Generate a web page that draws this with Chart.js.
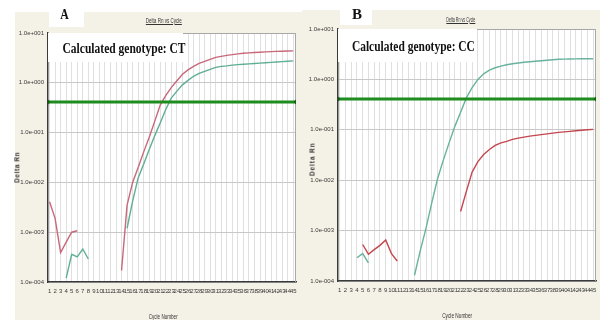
<!DOCTYPE html>
<html><head><meta charset="utf-8">
<script src="https://cdn.jsdelivr.net/npm/chart.js@4/dist/chart.umd.min.js"></script>
<style>
html,body{margin:0;padding:0;background:#fff;width:600px;height:320px;overflow:hidden;position:relative;font-family:'Liberation Sans',Arial,sans-serif;}
.panel{position:absolute;background:#f4f2e6;}
canvas{position:absolute;top:0;}
.wbox{position:absolute;background:#fff;}
</style></head>
<body>
<div class="panel" style="left:15px;top:12px;width:287px;height:308px"></div>
<div class="panel" style="left:302px;top:10px;width:298px;height:310px"></div>
<canvas id="cA" width="300" height="320" style="left:0"></canvas>
<canvas id="cB" width="300" height="320" style="left:300px"></canvas>
<script>
// ---- data ----
const cycles = [1,2,3,4,5,6,7,8,9,10,11,12,13,14,15,16,17,18,19,20,21,22,23,24,25,26,27,28,29,30,31,32,33,34,35,36,37,38,39,40,41,42,43,44,45];
const yTickValues = [1e-4, 1e-3, 1e-2, 1e-1, 1, 10];
const yTickLabels = ['1.0e-004','1.0e-003','1.0e-002','1.0e-001','1.0e+000','1.0e+001'];
const threshold = 0.41;
const panelTitles = ['A', 'B'];
const genotypeLabels = ['Calculated genotype: CT', 'Calculated genotype: CC'];

// Panel A (genotype CT)
const redA = [4.1e-3,1.9e-3,3.9e-4,6.3e-4,1.0e-3,1.07e-3,null,null,null,null,null,null,null,
  1.7e-4,3.5e-3,1.0e-2,2.0e-2,4.1e-2,8.1e-2,0.17,0.36,0.56,0.81,1.10,1.48,1.82,2.14,2.45,2.69,2.95,
  3.24,3.39,3.55,3.67,3.80,3.92,3.98,4.05,4.10,4.17,4.22,4.27,4.31,4.35,4.38];
const tealA = [null,null,null,1.2e-4,3.6e-4,3.2e-4,4.6e-4,2.9e-4,null,null,null,null,null,null,
  1.2e-3,4.2e-3,1.23e-2,2.34e-2,4.57e-2,8.7e-2,0.158,0.295,0.50,0.68,0.91,1.12,1.35,1.55,1.70,1.86,
  2.04,2.14,2.19,2.26,2.32,2.36,2.40,2.44,2.48,2.52,2.57,2.62,2.66,2.70,2.75];
// Panel B (genotype CC)
const redB = [null,null,null,null,5.3e-4,3.4e-4,4.2e-4,5.1e-4,6.5e-4,3.5e-4,2.5e-4,null,null,null,null,null,null,null,null,null,null,
  2.4e-3,6.0e-3,1.45e-2,2.34e-2,3.24e-2,4.07e-2,4.9e-2,5.5e-2,5.9e-2,6.46e-2,6.84e-2,7.16e-2,7.5e-2,7.76e-2,
  8.04e-2,8.3e-2,8.6e-2,8.9e-2,9.1e-2,9.3e-2,9.55e-2,9.8e-2,0.100,0.102];
const tealB = [null,null,null,2.9e-4,3.5e-4,2.3e-4,null,null,null,null,null,null,null,
  1.3e-4,4.0e-4,1.12e-3,3.6e-3,1.07e-2,2.5e-2,5.5e-2,0.117,0.224,0.43,0.69,1.0,1.29,1.53,1.70,1.84,1.95,
  2.04,2.11,2.19,2.24,2.29,2.34,2.40,2.45,2.51,2.53,2.54,2.55,2.56,2.57,2.57];

const X_MIN = 0.72, X_MAX = 45.5;
const tickFont = {family:"'Liberation Sans Narrow','Liberation Sans',Arial,sans-serif", size:6};

const plotFrame = {
  id:'plotFrame',
  beforeDraw(chart){
    const {ctx, chartArea:a} = chart;
    ctx.save(); ctx.fillStyle='#fff';
    ctx.fillRect(a.left, a.top, a.right-a.left, a.bottom-a.top); ctx.restore();
  },
  beforeDatasetsDraw(chart){
    const {ctx, chartArea:a} = chart;
    ctx.save(); ctx.strokeStyle='#a8a8a8'; ctx.lineWidth=1;
    ctx.beginPath();
    ctx.moveTo(a.left, a.top+0.5); ctx.lineTo(a.right-0.5, a.top+0.5); ctx.lineTo(a.right-0.5, a.bottom);
    ctx.stroke(); ctx.restore();
  }
};

function pts(arr){ return cycles.map((c,i)=>({x:c, y:arr[i]})); }

function makeChart(id, red, teal, g, colors){
  return new Chart(document.getElementById(id), {
    type:'line',
    data:{ datasets:[
      {data:[{x:X_MIN,y:threshold},{x:X_MAX,y:threshold}], borderColor:'#1e8c1e', borderWidth:3,
        pointRadius:2.5, pointStyle:'rectRot', pointBackgroundColor:'#136013', pointBorderWidth:0},
      {data:pts(red), borderColor:colors[0], borderWidth:1.4, pointRadius:0, spanGaps:false, tension:0},
      {data:pts(teal), borderColor:colors[1], borderWidth:1.4, pointRadius:0, spanGaps:false, tension:0}
    ]},
    options:{
      responsive:false, animation:false, devicePixelRatio:1,
      layout:{padding:{left:0, right:g.right, top:g.top, bottom:0}},
      plugins:{legend:{display:false}, tooltip:{enabled:false}, title:{display:false}},
      scales:{
        x:{type:'linear', min:X_MIN, max:X_MAX,
          afterBuildTicks(s){ s.ticks = cycles.map(v=>({value:v})); },
          afterFit(s){ s.height = g.xh; s.paddingLeft=0; s.paddingRight=0; },
          ticks:{autoSkip:false, maxRotation:0, minRotation:0, padding:6, font:tickFont, color:'#3a3a3a',
            callback:(v)=>String(v)},
          grid:{color:'#e0e0e0', lineWidth:1, drawTicks:false},
          border:{display:true, color:'#3a3a3a', width:1.5}
        },
        y:{type:'logarithmic', min:1e-4, max:10,
          afterBuildTicks(s){ s.ticks = yTickValues.map(v=>({value:v})); },
          afterFit(s){ s.width = g.yw; s.paddingTop=0; s.paddingBottom=0; },
          ticks:{autoSkip:false, padding:4, font:tickFont, color:'#3a3a3a',
            callback:(v)=>{ const i=yTickValues.indexOf(v); return i>=0?yTickLabels[i]:''; }},
          grid:{color:'#c8c8c8', lineWidth:1, drawTicks:false},
          border:{display:true, color:'#3a3a3a', width:1.5}
        }
      }
    },
    plugins:[plotFrame]
  });
}

makeChart('cA', redA, tealA, {right:2, top:33, xh:38, yw:48}, ['#c8687a','#5fae96']);
makeChart('cB', redB, tealB, {right:4, top:29, xh:39, yw:38}, ['#c4464e','#68b29e']);

// ---- overlay text ----
function box(l,t,w,h){ const d=document.createElement('div'); d.className='wbox';
  d.style.cssText+='left:'+l+'px;top:'+t+'px;width:'+w+'px;height:'+h+'px'; document.body.appendChild(d); }
function addText(txt, cx, cy, w, css, rot){
  const s=document.createElement('div');
  s.textContent=txt;
  s.style.cssText='position:absolute;white-space:nowrap;line-height:1;transform-origin:center center;'+css;
  document.body.appendChild(s);
  const r=s.getBoundingClientRect();
  s.style.left=(cx-r.width/2)+'px'; s.style.top=(cy-r.height/2)+'px';
  const sx = w ? w/r.width : 1;
  s.style.transform=(rot?'rotate(-90deg) ':'')+'scaleX('+sx+')';
}
const serifB = "font-family:'Liberation Serif','Times New Roman',serif;font-weight:bold;color:#111;";
const small = "font-family:'Liberation Sans',Arial,sans-serif;color:#333;";

box(49,0,35,27); box(340,0,32,25);
box(48,33,135,29); box(338,29,139,33);
addText(panelTitles[0], 64, 14.5, 8.5, serifB+'font-size:15px;');
addText(panelTitles[1], 356.7, 14, 10, serifB+'font-size:15px;');
addText(genotypeLabels[0], 123.5, 48, 123, serifB+'font-size:15px;');
addText(genotypeLabels[1], 413.3, 46, 123, serifB+'font-size:15px;');
addText('Delta Rn vs Cycle', 163.7, 20, 36, small+'font-size:7px;text-decoration:underline;');
addText('Delta Rn vs Cycle', 461.2, 19, 29, small+'font-size:7px;text-decoration:underline;');
addText('Cycle Number', 163.3, 316, 29, small+'font-size:7px;');
addText('Cycle Number', 457.3, 315, 30, small+'font-size:7px;');
addText('Delta Rn', 18, 167.5, 0, small+'font-size:6.5px;font-weight:bold;letter-spacing:0.6px;', true);
addText('Delta Rn', 313, 159.5, 0, small+'font-size:6.5px;font-weight:bold;letter-spacing:0.9px;', true);
</script>
</body></html>
